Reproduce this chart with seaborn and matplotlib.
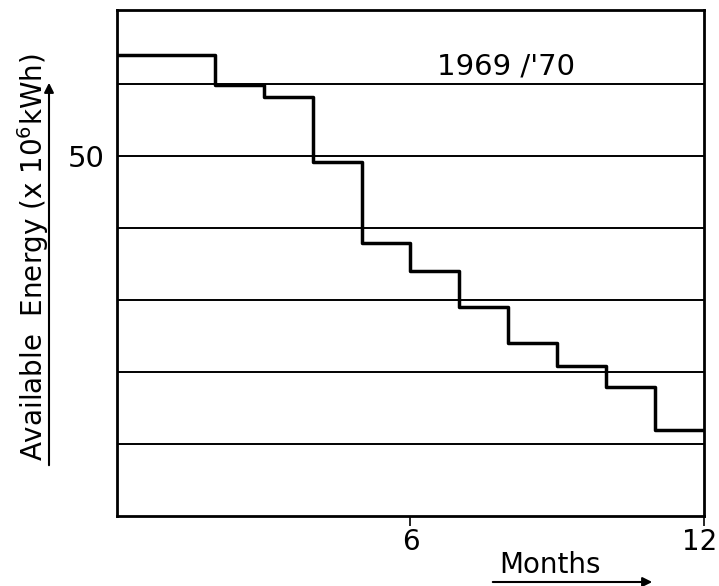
import matplotlib
matplotlib.use("Agg")
import matplotlib.pyplot as plt
import matplotlib.transforms as mtransforms
import seaborn as sns
import pandas as pd

# Monthly available energy (x 10^6 kWh), 1969/'70
month_start = [0, 2, 3, 4, 5, 6, 7, 8, 9, 10, 11]
energy = [64.0, 59.9, 58.2, 49.2, 37.9, 34.0, 29.0, 24.0, 20.8, 17.9, 11.9]
period_end = 12
grid_levels = [10, 20, 30, 40, 50, 60]
y_tick_labels = ["", "", "", "", "50", ""]
x_ticks = [6, 12]
x_tick_labels = ["6", "12"]
season = "1969 /'70"

sns.set_theme(style="white")
plt.rcParams["font.family"] = ["DejaVu Sans"]

# step curve: each level holds until the next month start; close at the end
df = pd.DataFrame({
    "month": month_start + [period_end],
    "energy": energy + [energy[-1]],
})

fig = plt.figure(figsize=(7.19, 5.86), dpi=100)
ax = fig.add_axes([117 / 719, 1 - 516 / 586, (704 - 117) / 719, (516 - 10) / 586])

for lvl in grid_levels:
    ax.axhline(lvl, color="black", lw=1.4, zorder=1)

sns.lineplot(data=df, x="month", y="energy", drawstyle="steps-post",
             color="black", lw=2.5, ax=ax, zorder=3)

ax.set_xlim(0, 12)
ax.set_ylim(0, 70.3)
ax.set_xticks(x_ticks)
ax.set_xticklabels(x_tick_labels, fontsize=20)
ax.set_yticks(grid_levels)
ax.set_yticklabels(y_tick_labels, fontsize=21)
ax.tick_params(axis="x", direction="out", length=7, width=1.2, pad=2,
               colors="black", bottom=True)
ax.tick_params(axis="y", length=0, pad=9, colors="black")
ax.set_xlabel("")
ax.set_ylabel("")
for sp in ax.spines.values():
    sp.set_color("black")
    sp.set_linewidth(2.0)

# nudge the last month label so it stays inside the figure
last_lbl = ax.get_xticklabels()[-1]
last_lbl.set_transform(last_lbl.get_transform() +
                       mtransforms.ScaledTranslation(-4 / 100, 0, fig.dpi_scale_trans))

ax.text(7.95, 62.4, season, fontsize=21, ha="center", va="center", color="black")

# axis titles with direction arrows
fig.text(33 / 719, 1 - 257 / 586, "Available  Energy (x 10$^6$kWh)", rotation=90,
         fontsize=20, ha="center", va="center", color="black")
fig.add_artist(matplotlib.patches.FancyArrowPatch(
    (49 / 719, 1 - 468 / 586), (49 / 719, 1 - 80 / 586),
    transform=fig.transFigure, arrowstyle="-|>", mutation_scale=14,
    lw=1.5, color="black"))

fig.text(550 / 719, 1 - 565 / 586, "Months", fontsize=20,
         ha="center", va="center", color="black")
fig.add_artist(matplotlib.patches.FancyArrowPatch(
    (490 / 719, 1 - 582 / 586), (655 / 719, 1 - 582 / 586),
    transform=fig.transFigure, arrowstyle="-|>", mutation_scale=14,
    lw=1.5, color="black"))

fig.savefig("out.png", dpi=100)
